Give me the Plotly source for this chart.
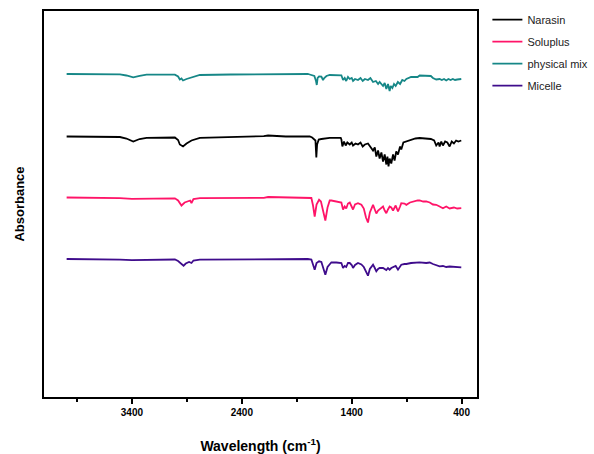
import plotly.graph_objects as go

# ---- data: wavenumber (cm-1) and signal deviation from each trace's baseline ----
teal_w = [3994, 3700, 3509, 3450, 3388, 3330, 3267, 3100, 3009, 2980, 2964, 2949, 2935, 2903, 2858, 2782,
          2500, 2300, 2161, 2000, 1800, 1782, 1740, 1725, 1718, 1710, 1697, 1676, 1661, 1650, 1630, 1600,
          1494, 1479, 1464, 1450, 1434, 1418, 1400, 1388, 1370, 1343, 1320, 1300, 1280, 1252, 1230, 1206,
          1180, 1160, 1146, 1115, 1100, 1085, 1070, 1055, 1045, 1030, 1015, 1000, 980, 960, 940, 920, 903,
          860, 800, 782, 722, 680, 661, 631, 600, 580, 560, 540, 520, 500, 480, 460, 440, 420, 403]
teal_v = [0, 0, -0.3, -1.5, -3.3, -1.8, -0.7, -0.7, -0.7, -2.5, -5.5, -4.5, -6.5, -5, -3.5, -1,
          -0.5, -0.3, 0.3, 0, 0, -0.5, -2, -7, -11, -4, -2.5, -2.7, -6, -4, -2, -1,
          -1.3, -6, -4, -7, -3, -5, -4, -7, -5, -6, -4, -7, -5, -6, -4, -8,
          -7, -10, -8, -12, -9, -15, -10, -17, -12, -14, -10, -12, -8, -10, -6, -7, -5,
          -3, -3, -1.5, -1.5, -2, -4, -5.5, -5, -6, -5, -6.5, -5, -6, -5, -6, -5.5, -5, -5]

black_w = [3994, 3700, 3509, 3450, 3388, 3330, 3267, 3009, 2980, 2964, 2935, 2903, 2858, 2782, 2500, 2200,
           2161, 2000, 1782, 1760, 1730, 1722, 1715, 1700, 1676, 1640, 1600, 1500, 1494, 1485, 1470, 1455,
           1440, 1418, 1400, 1388, 1365, 1343, 1320, 1300, 1280, 1252, 1230, 1206, 1190, 1176, 1160, 1146,
           1130, 1115, 1100, 1085, 1075, 1065, 1055, 1040, 1024, 1010, 995, 979, 960, 949, 930, 903, 860,
           820, 782, 722, 680, 650, 631, 610, 600, 585, 570, 550, 530, 509, 490, 470, 450, 430, 403]
black_v = [0, 0, -0.5, -2, -5, -2.5, -1.3, -1, -3.5, -8, -10, -7, -4, -1.3, -0.7, 0.3,
           1, 0, 0, -1, -4, -21, -8, -3, -2.5, -2, -1.3, -1.3, -3, -10, -5, -9,
           -6, -8, -6, -9, -7, -8, -6, -10, -8, -7, -10, -14, -11, -20, -14, -22,
           -16, -25, -18, -28, -20, -30, -22, -27, -18, -24, -15, -18, -10, -13, -6, -5, -3,
           -2, -1.5, -1.7, -2.5, -4, -9, -6, -10, -5, -9, -5, -6, -10, -5, -7, -4, -5, -4]

pink_w = [3994, 3700, 3509, 3400, 3300, 3100, 3009, 2980, 2949, 2920, 2900, 2870, 2858, 2840, 2782, 2500,
          2200, 2161, 2000, 1800, 1767, 1752, 1737, 1720, 1697, 1680, 1660, 1640, 1620, 1600, 1585, 1540,
          1494, 1479, 1464, 1450, 1434, 1418, 1400, 1388, 1370, 1343, 1312, 1290, 1270, 1252, 1235, 1206,
          1190, 1176, 1160, 1146, 1130, 1115, 1100, 1085, 1070, 1055, 1040, 1024, 1000, 979, 960, 949,
          920, 903, 870, 840, 800, 782, 750, 722, 690, 661, 631, 600, 570, 540, 509, 470, 440, 403]
pink_v = [0, 0, -0.7, -1.3, -1, -0.5, -0.8, -3, -8, -5, -4.5, -3, -5.5, -1.5, -0.7, -0.5,
          -0.3, 0.5, 0, 0, -0.5, -8, -19, -7, -2.3, -4, -14, -23, -10, -3, -3, -4,
          -5, -12, -9, -11, -6, -5, -9, -12, -7, -5.7, -7.3, -11, -20, -25, -15, -7.3,
          -12, -16, -13, -12, -10, -9, -13, -15.7, -12, -9, -10, -13, -8, -14, -9, -5.7,
          -6, -7.3, -5, -4, -3, -3, -4, -4, -5, -7, -7.3, -9, -10.7, -9, -11, -10, -11, -10.7]

purple_w = [3994, 3700, 3509, 3400, 3300, 3100, 3009, 2980, 2949, 2930, 2910, 2880, 2858, 2840, 2782, 2500,
            2161, 1800, 1767, 1752, 1737, 1720, 1697, 1676, 1660, 1640, 1620, 1585, 1540, 1494, 1479, 1464,
            1450, 1434, 1418, 1400, 1388, 1370, 1343, 1312, 1290, 1270, 1252, 1235, 1206, 1190, 1176, 1160,
            1146, 1115, 1100, 1085, 1070, 1055, 1040, 1024, 1000, 979, 960, 949, 920, 903, 860, 782,
            722, 690, 661, 631, 600, 570, 540, 509, 470, 440, 403]
purple_v = [0, -0.2, -0.7, -1.2, -1, -0.3, -0.5, -2, -5, -6.7, -4.5, -3, -4, -1.5, -0.7, -0.4,
            0.3, 0, -0.5, -6, -10.7, -4, -2.3, -3, -9, -15.7, -8, -3.3, -3.5, -4, -9, -7,
            -8, -4, -4, -6, -9, -6, -4, -5.5, -8, -12, -16.7, -10, -5.7, -9, -12.3, -10,
            -9, -9, -10, -11, -9, -10.7, -9, -8, -7, -10.7, -8, -5.7, -5, -5, -4, -3.3,
            -4, -3.5, -5, -6, -7.3, -7, -8, -7.5, -8, -8.3, -8.3]

names = ["Narasin", "Soluplus", "physical mix", "Micelle"]
xs = [black_w, pink_w, teal_w, purple_w]
ys = [black_v, pink_v, teal_v, purple_v]
offsets = [260.5, 199.5, 323.0, 138.0]   # vertical stacking of the spectra
colors = ["#000000", "#FF1468", "#168787", "#3F0C8C"]

x_ticks = [3400, 2400, 1400, 400]
x_minor = [3900, 2900, 1900, 900]

fig = go.Figure()
for n, x, y, off, c in zip(names, xs, ys, offsets, colors):
    fig.add_trace(go.Scatter(
        x=x, y=[off + v for v in y], mode="lines", name=n, legendgroup=n,
        line=dict(color=c, width=1.8)))

fig.update_layout(
    width=594, height=454,
    margin=dict(l=44, r=117, t=11, b=57, autoexpand=False),
    paper_bgcolor="white", plot_bgcolor="white",
    font=dict(family="Liberation Sans, Arial, sans-serif", color="#000"),
    showlegend=True,
    legend=dict(x=0.024, xanchor="left", y=1.015, yanchor="top",
                font=dict(size=11, color="#222"), tracegroupgap=3,
                bgcolor="rgba(0,0,0,0)"),
)
fig.update_layout(legend_x=1.024)
fig.update_xaxes(
    range=[4200, 260], tickmode="array", tickvals=x_ticks,
    ticktext=[f"<b>{t}</b>" for t in x_ticks],
    ticks="outside", ticklen=5, tickwidth=2, tickcolor="black",
    tickfont=dict(size=10, color="#000"),
    minor=dict(ticks="outside", tickmode="array", tickvals=x_minor, ticklen=3, tickwidth=2, tickcolor="black"),
    showline=True, linecolor="black", linewidth=2, mirror=True,
    showgrid=False, zeroline=False, automargin=False,
    title=dict(text="<b>Wavelength (cm<sup>-1</sup>)</b>", font=dict(size=14), standoff=26),
)
fig.update_yaxes(
    range=[0, 386], showticklabels=False, ticks="",
    showline=True, linecolor="black", linewidth=2, mirror=True,
    showgrid=False, zeroline=False, automargin=False,
    title=dict(text="<b>Absorbance</b>", font=dict(size=13), standoff=14),
)

fig.write_html("out.html")
